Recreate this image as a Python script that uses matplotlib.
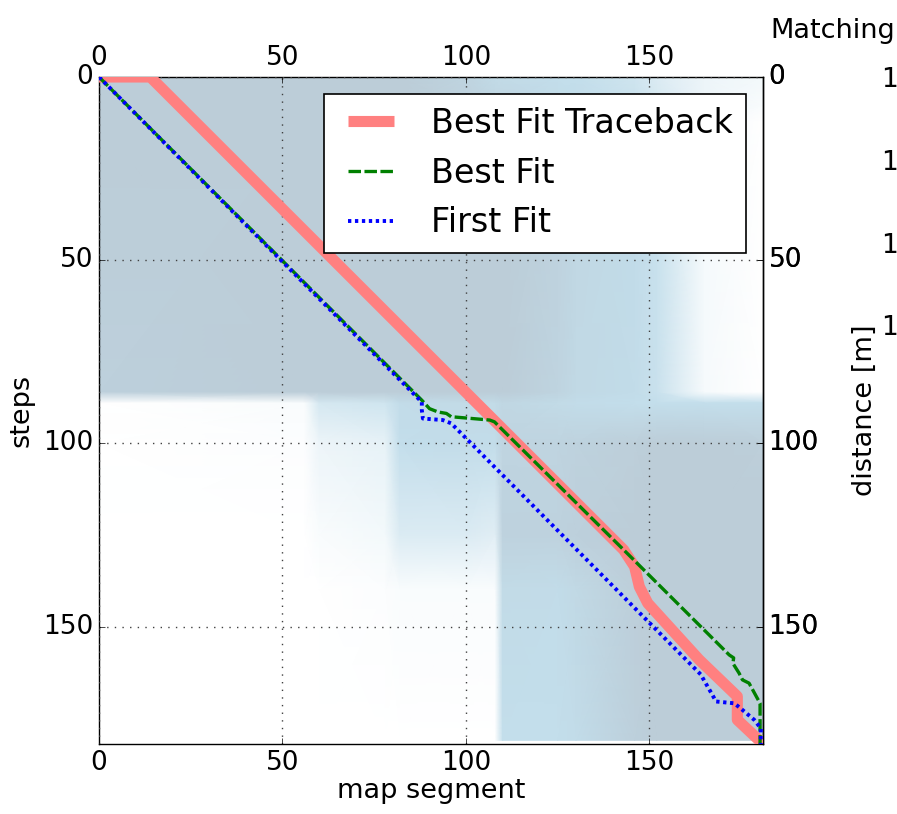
import numpy as np
import matplotlib
matplotlib.use("Agg")
import matplotlib.pyplot as plt
from matplotlib.colors import LinearSegmentedColormap

# --- background cost matrix (coarse nodes, shaded between them) ---
bg_cols = [0, 56, 60, 78, 82, 100, 108, 110, 125, 130, 146, 152, 165, 181]
bg_rows = [0, 8, 12, 86, 89, 100, 125, 140, 181]
bg_values = [
    [2.0, 2.0, 2.0, 2.0, 2.0, 1.6, 1.2, 1.2, 1.0, 1.0, 0.8, 0.6, 0.3, 0.2],
    [2.0, 2.0, 2.0, 2.0, 2.0, 1.7, 1.5, 1.5, 1.2, 1.1, 0.9, 0.7, 0.3, 0.1],
    [2.0, 2.0, 2.0, 2.0, 2.0, 2.0, 2.0, 2.0, 1.7, 1.4, 1.15, 0.95, 0.2, 0.0],
    [1.8, 2.0, 2.0, 2.0, 2.0, 2.0, 2.0, 2.0, 1.6, 1.3, 1.1, 0.9, 0.15, 0.0],
    [0.0, 0.1, 0.7, 0.8, 1.1, 1.2, 1.2, 1.4, 1.2, 1.1, 1.0, 1.0, 1.0, 1.0],
    [0.0, 0.05, 0.3, 0.4, 1.0, 1.1, 1.1, 1.6, 1.6, 1.7, 1.9, 2.0, 2.0, 1.9],
    [0.0, 0.0, 0.1, 0.2, 0.6, 0.6, 0.5, 1.7, 1.7, 1.8, 2.0, 2.0, 2.0, 2.0],
    [0.0, 0.0, 0.0, 0.05, 0.1, 0.1, 0.1, 1.2, 1.1, 1.3, 1.9, 2.0, 2.0, 2.0],
    [0.0, 0.0, 0.0, 0.0, 0.0, 0.0, 0.0, 1.0, 1.0, 1.1, 1.8, 2.0, 2.0, 2.0],
]

# --- alignment paths (map segment, steps) ---
traceback_seg = [0, 14, 143, 146, 147.3, 149.6, 163.6, 174, 174, 181]
traceback_step = [0, 0, 129, 133.6, 139.1, 143.6, 159, 169, 175.4, 182]

best_seg = [0, 88, 90.1, 92.4, 94.7, 96, 106.5, 107.8, 143, 171.8, 173, 172.8,
            174.5, 175.4, 177.2, 180.2, 180.2]
best_step = [0, 88.2, 90.5, 91.4, 91.8, 92.7, 93.6, 94.1, 129, 157.7, 158.5, 160,
             162.7, 164.5, 165.4, 170.9, 182]

first_seg = [0, 88, 88, 88.3, 93.7, 96, 164, 167.2, 168.2, 173.2, 175.4, 178.6,
             180.4, 180.4]
first_step = [0, 88.7, 90.9, 93.2, 93.6, 94.5, 163, 168.6, 170.4, 170.9, 172.7,
              175.4, 177.7, 182]

# neighbouring "Matching" panel, only its left edge is in view
matching_ticks = [100, 110, 120, 130]

plt.style.use("classic")
plt.rcParams["figure.facecolor"] = "white"
plt.rcParams["savefig.facecolor"] = "white"

fig = plt.figure(figsize=(8.97, 8.14), dpi=100)
ax = fig.add_axes([99 / 897, 1 - 744 / 814, 664 / 897, 667 / 814])

cmap = LinearSegmentedColormap.from_list(
    "cost", ["#ffffff", "#c3deeb", "#bccdd8"])
ax.pcolormesh(bg_cols, bg_rows, np.array(bg_values), shading="gouraud",
              cmap=cmap, vmin=0, vmax=2, zorder=0)

ax.plot(traceback_seg, traceback_step, color="#ff8080", linewidth=8,
        solid_capstyle="butt", label="Best Fit Traceback", zorder=3)
ax.plot(best_seg, best_step, color="green", linewidth=2.4, dashes=(9, 2.5),
        label="Best Fit", zorder=4)
ax.plot(first_seg, first_step, color="blue", linewidth=2.8, dashes=(2.4, 2.6),
        label="First Fit", zorder=5)

ax.set_xlim(0, 181)
ax.set_ylim(182, 0)
ax.set_xticks([0, 50, 100, 150])
ax.set_yticks([0, 50, 100, 150])
ax.grid(True, color="0.25", linestyle=(0, (1, 4.5)), linewidth=1.0)
ax.tick_params(labelsize=19, top=True, labeltop=True, right=True, labelright=True)
ax.set_xlabel("map segment", fontsize=19.5, labelpad=2)
ax.set_ylabel("steps", fontsize=19.5, labelpad=6)

sec = ax.secondary_yaxis("right")
sec.set_yticks([0, 50, 100, 150])
sec.tick_params(labelsize=19)
sec.set_ylabel("distance [m]", fontsize=19.5, labelpad=24)

leg = ax.legend(loc="upper right", fontsize=24, fancybox=False, numpoints=2,
                handlelength=2, borderaxespad=0.5)
leg.get_frame().set_linewidth(1.2)

# right-hand panel: mostly cut off by the figure edge
axm = fig.add_axes([937 / 897, 1 - 744 / 814, 0.3, 667 / 814])
axm.set_ylim(180.2, 99.64)
axm.set_yticks(matching_ticks)
axm.set_xticks([])
axm.tick_params(labelsize=19)
axm.text(-0.62, 1.05, "Matching", transform=axm.transAxes, fontsize=19.5,
         ha="left", va="bottom")

fig.savefig("out.png", dpi=100)
